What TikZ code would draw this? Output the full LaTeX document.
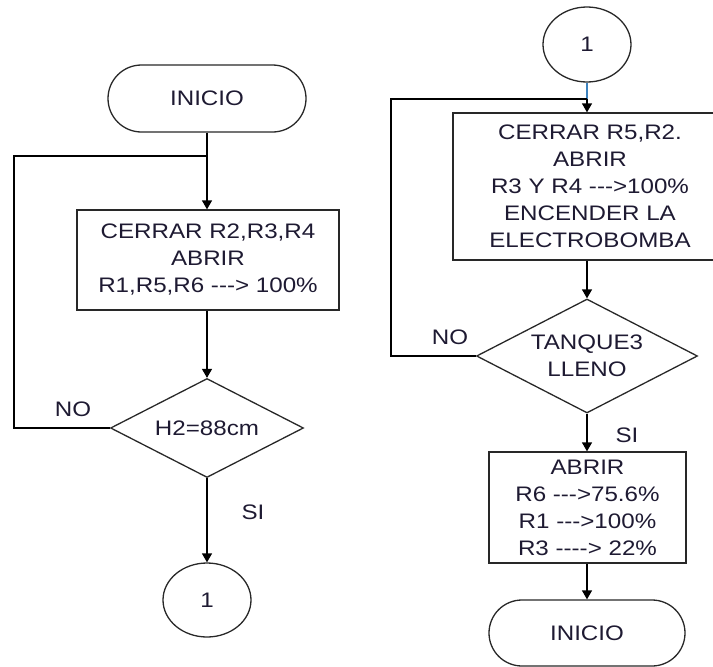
\documentclass[tikz,border=0pt]{standalone}
\usepackage{fontspec}
\setmainfont{Liberation Sans}[FakeStretch=1.15]
\usetikzlibrary{shapes.geometric,shapes.misc,arrows.meta,calc}
\definecolor{txt}{RGB}{30,26,50}
\definecolor{ln}{RGB}{40,40,40}
\definecolor{bl}{RGB}{60,130,190}
\newcommand{\arrtxt}[1]{#1}
\begin{document}
\begin{tikzpicture}[x=1pt,y=-1pt,
  every node/.style={font=\fontsize{21}{27}\selectfont, text=txt},
  base/.style={draw=ln, line width=1.3pt, inner sep=0pt, align=center},
  term/.style={base, rounded rectangle, minimum width=#1},
  procbox/.style={base, rectangle},
  decis/.style={base, diamond},
  conn/.style={base, ellipse, minimum width=88pt, minimum height=74pt},
  flow/.style={draw=black, line width=1.3pt},
  arr/.style={flow, -{Triangle[length=9pt,width=10pt]}},
  lbl/.style={inner sep=0pt}
]
\useasboundingbox (0,0) rectangle (713,667);
% left column
\node[term=198pt, minimum height=67pt] (ini) at (207,98.5) {INICIO};
\node[procbox, minimum width=262pt, minimum height=100pt] (b1) at (208,260) {CERRAR R2,R3,R4\\ABRIR\\R1,R5,R6 -{}-{}-> 100\%};
\node[decis, minimum width=193pt, minimum height=99pt, aspect=1.95] (d1) at (207,428) {H2=88cm};
\node[conn] (c1) at (207,600) {1};
\coordinate (j1) at (207,156);
\coordinate (l1) at (14,156);
\coordinate (l2) at (14,428);
\draw[flow] (ini.south) -- (j1);
\draw[arr] (j1) -- (b1.north -| j1);
\draw[arr] (b1.south -| d1.north) -- (d1.north);
\draw[flow] (d1.west) -- (l2) -- (l1) -- (j1);
\draw[arr] (d1.south) -- (c1.north);
\node[lbl] (no1) at (73,409) {NO};
\node[lbl] (si1) at (253,512) {SI};
% right column
\node[conn, minimum height=75pt] (c2) at (587,44.5) {1};
\node[procbox, minimum width=274pt, minimum height=147pt] (b2) at (590,186.5) {CERRAR R5,R2.\\ABRIR\\R3 Y R4 -{}-{}->100\%\\ENCENDER LA\\ELECTROBOMBA};
\node[decis, minimum width=221pt, minimum height=114pt, aspect=1.94] (d2) at (587,356) {TANQUE3\\LLENO};
\node[procbox, minimum width=197pt, minimum height=111pt] (b3) at (587.5,507.5) {ABRIR\\R6 -{}-{}->75.6\%\\R1 -{}-{}->100\%\\R3 -{}-{}-{}-> 22\%};
\node[term=196pt, minimum height=66pt] (ini2) at (587,633) {INICIO};
\coordinate (j2) at (587,99);
\coordinate (r1) at (391,99);
\coordinate (r2) at (391,355);
\draw[flow, draw=bl] (c2.south) -- (j2);
\draw[arr] (j2) -- (b2.north -| j2);
\draw[arr] (b2.south -| d2.north) -- (d2.north);
\draw[flow] (d2.west) -- (d2.west -| r2) -- (r1) -- (j2);
\draw[arr] (d2.south) -- (b3.north -| d2.south);
\draw[arr] (b3.south -| ini2.north) -- (ini2.north);
\node[lbl] (no2) at (450,337) {NO};
\node[lbl] (si2) at (627,435) {SI};
\end{tikzpicture}
\end{document}
